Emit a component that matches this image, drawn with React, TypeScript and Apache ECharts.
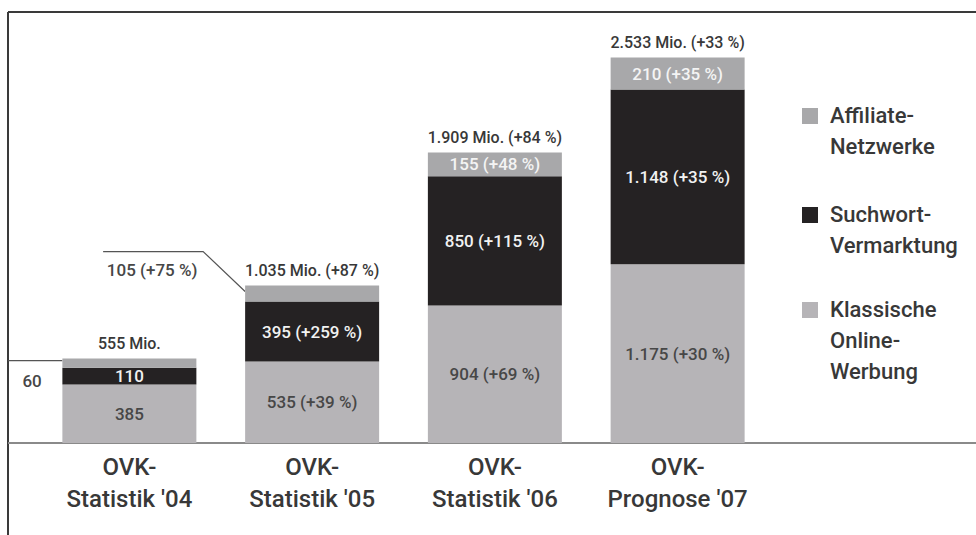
import React, { useEffect, useRef } from "react";
import * as echarts from "echarts";

const categories = ["OVK-\nStatistik '04", "OVK-\nStatistik '05", "OVK-\nStatistik '06", "OVK-\nPrognose '07"];
const klassische = [385, 535, 904, 1175];
const klassischeGrowth = [null, 39, 69, 30];
const suchwort = [110, 395, 850, 1148];
const suchwortGrowth = [null, 259, 115, 35];
const affiliate = [60, 105, 155, 210];
const affiliateGrowth = [null, 75, 48, 35];
const totals = [555, 1035, 1909, 2533];
const totalGrowth = [null, 87, 84, 33];
const legendItems = [
  { name: "Affiliate-\nNetzwerke", color: "#a8a8aa" },
  { name: "Suchwort-\nVermarktung", color: "#252223" },
  { name: "Klassische\nOnline-\nWerbung", color: "#b6b4b7" },
];

const FONT = "Roboto, sans-serif";
const BAR_W = 134;

const fmt = (n: number) => String(n).replace(/\B(?=(\d{3})+(?!\d))/g, ".");
const lab = (v: number, g: number | null) => (g == null ? fmt(v) : `${fmt(v)} (+${g} %)`);

export default function App() {
  const ref = useRef<HTMLDivElement>(null);
  useEffect(() => {
    const chart = echarts.init(ref.current!, null, { renderer: "svg" });
    const option: any = {
      animation: false,
      backgroundColor: "#ffffff",
      textStyle: { fontFamily: FONT },
      grid: { left: 38, right: 207, top: 17, bottom: 92 },
      xAxis: {
        type: "category",
        data: categories,
        axisLine: { show: false },
        axisTick: { show: false },
        axisLabel: { fontFamily: FONT, fontSize: 24, fontWeight: 500, lineHeight: 32, color: "#383838", margin: 8 },
      },
      yAxis: { type: "value", min: 0, max: 2800, show: false, splitLine: { show: false } },
      series: [
        {
          name: "Klassische",
          type: "bar",
          stack: "s",
          barWidth: BAR_W,
          itemStyle: { color: legendItems[2].color },
          label: {
            show: true,
            position: "inside",
            fontFamily: FONT,
            fontSize: 17,
            fontWeight: 500,
            color: "#474747",
            formatter: (p: any) => lab(klassische[p.dataIndex], klassischeGrowth[p.dataIndex]),
          },
          data: klassische,
        },
        {
          name: "Suchwort",
          type: "bar",
          stack: "s",
          barWidth: BAR_W,
          itemStyle: { color: legendItems[1].color },
          label: {
            show: true,
            position: "inside",
            fontFamily: FONT,
            fontSize: 17,
            fontWeight: 500,
            color: "#f2f2f2",
            formatter: (p: any) => lab(suchwort[p.dataIndex], suchwortGrowth[p.dataIndex]),
          },
          data: suchwort,
        },
        {
          name: "Affiliate",
          type: "bar",
          stack: "s",
          barWidth: BAR_W,
          itemStyle: { color: legendItems[0].color },
          label: {
            show: true,
            position: "inside",
            fontFamily: FONT,
            fontSize: 17,
            fontWeight: 500,
            color: "#f4f4f4",
            formatter: (p: any) => lab(affiliate[p.dataIndex], affiliateGrowth[p.dataIndex]),
          },
          data: affiliate.map((v, i) => {
            if (i === 0)
              return {
                value: v,
                label: { position: [-40, 22], align: "left", verticalAlign: "middle", color: "#474747" },
              };
            if (i === 1)
              return {
                value: v,
                label: { position: [-93, -16], align: "center", verticalAlign: "middle", color: "#474747" },
              };
            return v;
          }),
        },
        {
          name: "Total",
          type: "bar",
          stack: "s",
          barWidth: BAR_W,
          itemStyle: { color: "transparent" },
          label: {
            show: true,
            position: "top",
            distance: 7,
            fontFamily: FONT,
            fontSize: 16,
            fontWeight: 500,
            color: "#383838",
            formatter: (p: any) => {
              const i = p.dataIndex;
              return totalGrowth[i] == null ? `${fmt(totals[i])} Mio.` : `${fmt(totals[i])} Mio. (+${totalGrowth[i]} %)`;
            },
          },
          data: totals.map(() => 0),
        },
      ],
    };
    chart.setOption(option);

    const base = chart.convertToPixel({ gridIndex: 0 } as any, [0, 0]) as number[];
    const p0 = chart.convertToPixel({ gridIndex: 0 } as any, [0, totals[0]]) as number[];
    const p1 = chart.convertToPixel({ gridIndex: 0 } as any, [1, totals[1]]) as number[];
    const x0 = p0[0] - BAR_W / 2;
    const x1 = p1[0] - BAR_W / 2;
    const lineStyle = { stroke: "#555", lineWidth: 1.2 };

    const legendGraphics: any[] = [];
    const starts = [116, 215, 310];
    legendItems.forEach((it, k) => {
      legendGraphics.push({
        type: "rect",
        shape: { x: 802, y: starts[k] - 8, width: 16, height: 16 },
        style: { fill: it.color },
      });
      legendGraphics.push({
        type: "text",
        x: 830,
        y: starts[k] - 16,
        style: {
          text: it.name,
          fontFamily: FONT,
          fontSize: 22,
          fontWeight: 500,
          lineHeight: 31,
          fill: "#383838",
          textVerticalAlign: "top",
        },
      });
    });

    chart.setOption({
      graphic: [
        { type: "line", shape: { x1: 8, y1: 12, x2: 976, y2: 12 }, style: { stroke: "#3a3a3a", lineWidth: 2 } },
        { type: "line", shape: { x1: 8, y1: 12, x2: 8, y2: 535 }, style: { stroke: "#3a3a3a", lineWidth: 2 } },
        { type: "line", shape: { x1: 8, y1: base[1], x2: 976, y2: base[1] }, style: { stroke: "#8a8a8a", lineWidth: 2 } },
        { type: "line", shape: { x1: 8, y1: p0[1] + 2, x2: x0, y2: p0[1] + 2 }, style: lineStyle },
        {
          type: "polyline",
          shape: { points: [[x1 - 142, p1[1] - 34], [x1 - 42, p1[1] - 34], [x1, p1[1] + 6]] },
          style: { ...lineStyle, fill: null },
        },
        ...legendGraphics,
      ],
    });
    return () => chart.dispose();
  }, []);
  return <div ref={ref} style={{ position: "fixed", left: 0, top: 0, width: 976, height: 535 }} />;
}
